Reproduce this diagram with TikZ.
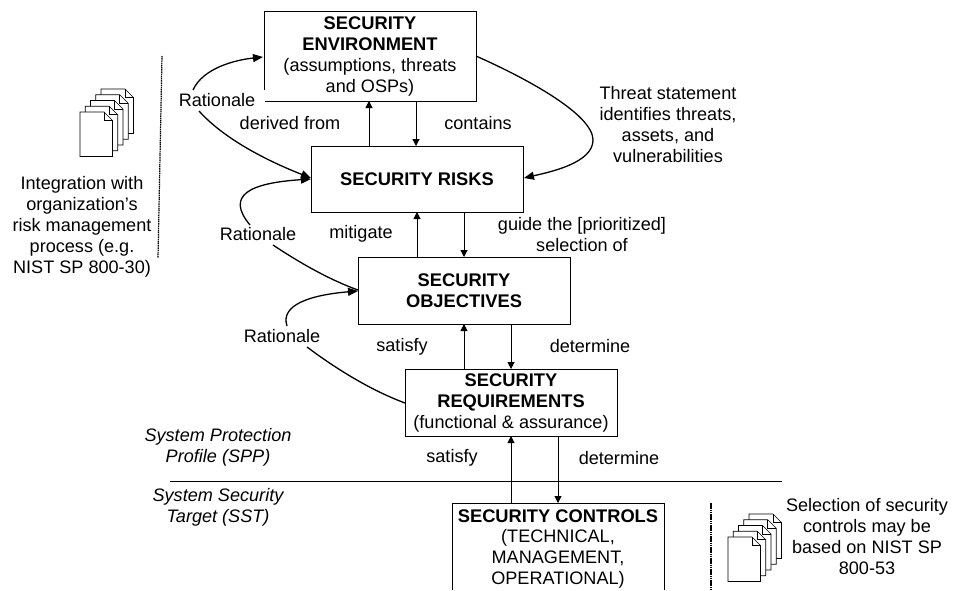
\documentclass[tikz,border=0pt]{standalone}
\usepackage{fontspec}
\setmainfont{Liberation Sans}
\usetikzlibrary{arrows.meta}
\newcommand{\hdf}{\fontsize{18.3}{21}\selectfont\bfseries}
\newcommand{\txf}{\fontsize{18.1}{21}\selectfont\mdseries}
\tikzset{
  box/.style={draw=black,line width=0.9pt,fill=white},
  lab/.style={align=center,inner sep=0pt,font=\fontsize{18.1}{21}\selectfont},
  conn/.style={line width=1pt,-{Triangle[length=7pt,width=7pt]}},
  curve/.style={line width=1.3pt,-{Triangle[length=10pt,width=8pt]}},
  plain/.style={line width=1.3pt},
  page/.style={draw=black,line width=0.7pt,fill=white},
  hd/.style={font=\hdf},
  dots/.style={line width=1.2pt,dash pattern=on 1.5pt off 0.7pt}
}
\newcommand{\docpage}[2]{%
  \filldraw[page] (#1,#2) -- ++(24,0) -- ++(8.5,8.5) -- ++(0,36) -- ++(-32.5,0) -- cycle;
  \draw[line width=0.7pt] (#1+24,#2) -- ++(0,8.5) -- ++(8.5,0);
}
\newcommand{\docstack}[2]{%
  \foreach \i in {4,3,2,1,0}{\docpage{#1+5.25*\i}{#2-5.75*\i}}%
}
\begin{document}
\begin{tikzpicture}[x=1pt,y=-1pt]
\useasboundingbox (0,0) rectangle (955,590);
% boxes
\path[box] (264,11.5) rectangle (476,101);
\node[lab] (env) at (370,56) {\hdf SECURITY\\\hdf ENVIRONMENT\\\txf (assumptions, threats\\\txf and OSPs)};
\path[box] (311,146) rectangle (523,212);
\node[lab,hd] (risk) at (417,179) {SECURITY RISKS};
\path[box] (358,257) rectangle (570,324);
\node[lab,hd] (obj) at (464,291) {SECURITY\\OBJECTIVES};
\path[box] (405,369) rectangle (617,436);
\node[lab] (req) at (511,402.5) {\hdf SECURITY\\\hdf REQUIREMENTS\\\txf (functional \& assurance)};
\draw[line width=0.9pt] (452,590) -- (452,503) -- (664,503) -- (664,590);
\node[lab,hd] (ctl) at (558,516) {SECURITY CONTROLS};
\node[lab] (ctlt) at (558,559) {(TECHNICAL,\\MANAGEMENT,\\OPERATIONAL)};
% vertical connectors
\draw[conn] (369,146) -- (369,101);
\draw[conn] (416,101) -- (416,146);
\draw[conn] (417,257) -- (417,212);
\draw[conn] (464,212) -- (464,257);
\draw[conn] (464,369) -- (464,324);
\draw[conn] (511,324) -- (511,369);
\draw[conn] (511,503) -- (511,436);
\draw[conn] (558,436) -- (558,503);
% separator
\draw[line width=0.7pt] (170,481) -- (782,481);
\draw[dots] (162,56) -- (158,258);
\draw[dots] (711,503) -- (711,590);
% rationale
\fill[white] (170,90) rectangle (264.6,111);
\node[lab] (r1) at (217,100) {Rationale};
\node[lab] (r2) at (258,234) {Rationale};
\node[lab] (r3) at (282,336) {Rationale};
\draw[curve] (193,90) .. controls (203,68) and (235,60) .. (263,57);
\draw[curve] (199,111) .. controls (225,140) and (270,162) .. (311,178);
\draw[curve] (250,225) .. controls (225,195) and (250,183) .. (311,179);
\draw[plain] (273,245) .. controls (300,263) and (330,280) .. (358,290);
\draw[curve] (287,326) .. controls (280,305) and (310,295) .. (358,291);
\draw[plain] (307,347) .. controls (335,368) and (370,390) .. (405,403);
\draw[curve] (476,56) .. controls (530,80) and (593,115) .. (593,140) .. controls (593,163) and (550,172) .. (524,178);
% labels
\node[lab] (l1) at (290,123) {derived from};
\node[lab] (l2) at (478,123) {contains};
\node[lab] (l3) at (668,125) {Threat statement\\identifies threats,\\assets, and\\vulnerabilities};
\node[lab] (l4) at (361,234) {mitigate};
\node[lab] (l5) at (582,235) {guide the [prioritized]\\selection of};
\node[lab] (l6) at (402,347) {satisfy};
\node[lab] (l7) at (590,346) {determine};
\node[lab] (l8) at (452,458) {satisfy};
\node[lab] (l9) at (619,458) {determine};
\node[lab,font=\fontsize{18.1}{21}\selectfont\itshape] (s1) at (218,447) {System Protection\\Profile (SPP)};
\node[lab,font=\fontsize{18.1}{21}\selectfont\itshape] (s2) at (218,507.5) {System Security\\Target (SST)};
\node[lab] (n1) at (82,227) {Integration with\\organization’s\\risk management\\process (e.g.\\NIST SP 800-30)};
\node[lab] (n2) at (867,537) {Selection of security\\controls may be\\based on NIST SP\\800-53};
\docstack{80}{112}
\docstack{728}{537}
\end{tikzpicture}
\end{document}
